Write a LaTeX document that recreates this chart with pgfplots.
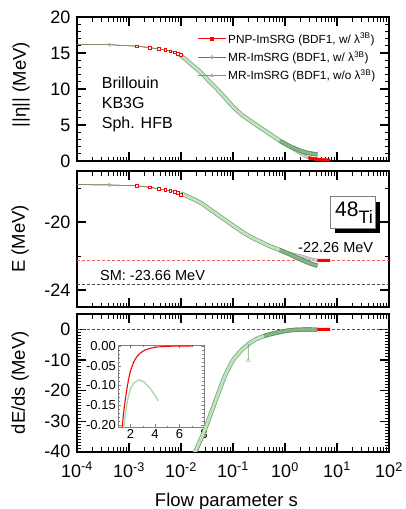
\documentclass[border=0pt]{standalone}
\usepackage{fontspec}
\setmainfont{Liberation Sans}
\usepackage{pgfplots}
\usepackage{pgfplotstable}
\pgfplotsset{compat=1.18}

\definecolor{pnpred}{RGB}{255,0,0}
\definecolor{pnpdash}{RGB}{255,90,90}
\definecolor{mrgrey}{RGB}{110,110,110}
\definecolor{mrgreylt}{RGB}{205,205,205}
\definecolor{nogreen}{RGB}{105,165,105}
\definecolor{nogreenlt}{RGB}{195,225,195}
\definecolor{nogreendk}{RGB}{135,180,135}
\definecolor{smdash}{RGB}{80,80,80}

% flow data: ||eta||, E and dE/ds for the three runs
\pgfplotstableread{
s eta_pnp eta_mr eta_no e_pnp e_mr e_no de_pnp de_mr de_no
0.0001 16.2 16.2 16.2 -17.80 -17.80 -17.80 nan nan nan
0.00042 16.15 16.15 16.15 -17.82 -17.82 -17.82 nan nan nan
0.0014 15.95 15.95 15.95 -17.87 -17.87 -17.87 nan nan nan
0.0025 15.75 15.75 15.75 -17.96 -17.96 -17.96 nan nan nan
0.0038 15.55 15.55 15.55 -18.05 -18.05 -18.05 nan nan nan
0.0050 15.40 15.40 15.40 -18.12 -18.12 -18.12 nan nan nan
0.0062 15.25 15.25 15.25 -18.18 -18.18 -18.18 nan nan nan
0.0075 15.10 15.10 15.10 -18.23 -18.23 -18.23 nan nan nan
0.0088 14.90 14.90 14.90 -18.28 -18.28 -18.28 nan nan nan
0.0100 14.75 14.60 14.60 -18.38 -18.33 -18.33 -53.5 -52.0 -52.0
0.0112 14.50 14.35 14.35 -18.44 -18.39 -18.39 -51.0 -49.5 -49.5
0.0126 14.20 14.05 14.05 -18.51 -18.46 -18.46 -48.7 -47.2 -47.2
0.0141 13.90 13.75 13.75 -18.58 -18.53 -18.53 -46.5 -45.0 -45.0
0.0158 13.55 13.40 13.40 -18.65 -18.60 -18.60 -44.4 -42.9 -42.9
0.0178 13.25 13.10 13.10 -18.72 -18.67 -18.67 -42.3 -40.8 -40.8
0.0200 12.95 12.80 12.80 -18.80 -18.75 -18.75 -40.5 -39.0 -39.0
0.0224 12.65 12.50 12.50 -18.88 -18.83 -18.83 -38.6 -37.1 -37.1
0.0251 12.30 12.15 12.15 -18.96 -18.91 -18.91 -36.7 -35.2 -35.2
0.0282 11.95 11.80 11.80 -19.07 -19.02 -19.02 -34.7 -33.2 -33.2
0.0316 11.55 11.40 11.40 -19.18 -19.13 -19.13 -32.4 -30.9 -30.9
0.0355 11.15 11.00 11.00 -19.29 -19.24 -19.24 -30.1 -28.6 -28.6
0.0398 10.80 10.65 10.65 -19.40 -19.35 -19.35 -27.8 -26.3 -26.3
0.0447 10.45 10.30 10.30 -19.50 -19.45 -19.45 -25.5 -24.0 -24.0
0.0501 10.10 9.95 9.95 -19.61 -19.56 -19.56 -22.7 -21.7 -21.7
0.0562 9.70 9.55 9.55 -19.72 -19.67 -19.67 -20.4 -19.4 -19.4
0.0631 9.30 9.15 9.15 -19.83 -19.78 -19.78 -18.1 -17.1 -17.1
0.0708 8.90 8.75 8.75 -19.93 -19.88 -19.88 -16.1 -15.1 -15.1
0.0794 8.50 8.35 8.35 -20.04 -19.99 -19.99 -14.3 -13.3 -13.3
0.0891 8.10 7.95 7.95 -20.15 -20.10 -20.10 -12.6 -11.6 -11.6
0.1000 7.70 7.55 7.55 -20.25 -20.20 -20.20 -10.5 -10.1 -10.1
0.112 7.35 7.20 7.20 -20.36 -20.31 -20.31 -9.4 -9.0 -9.0
0.126 7.00 6.85 6.85 -20.46 -20.41 -20.41 -8.4 -8.0 -8.0
0.141 6.70 6.55 6.55 -20.57 -20.52 -20.52 -7.5 -7.1 -7.1
0.158 6.40 6.25 6.25 -20.67 -20.62 -20.62 -6.6 -6.2 -6.2
0.178 6.15 6.00 6.00 -20.77 -20.72 -20.72 -5.9 -5.5 -5.5
0.200 5.90 5.75 5.75 -20.86 -20.81 -20.81 -4.95 -4.8 -4.8
0.224 5.65 5.50 5.50 -20.94 -20.89 -20.89 -4.35 -4.2 -4.2
0.251 5.40 5.25 5.25 -21.02 -20.97 -20.97 -3.8 -3.65 -3.65
0.282 5.15 5.00 5.00 -21.10 -21.05 -21.05 -3.35 -3.2 -3.2
0.316 4.90 4.75 4.75 -21.17 -21.12 -21.12 -2.95 -2.8 -2.8
0.355 4.65 4.50 4.50 -21.24 -21.19 -21.19 -2.6 -2.5 -2.5
0.398 4.40 4.30 4.30 -21.32 -21.27 -21.27 -2.3 -2.2 -2.2
0.447 4.15 4.05 4.05 -21.39 -21.34 -21.34 -1.95 -1.9 -1.9
0.501 3.90 3.80 3.80 -21.46 -21.41 -21.41 -1.7 -1.68 -1.68
0.562 3.65 3.55 3.55 -21.52 -21.47 -21.47 -1.48 -1.47 -1.47
0.631 3.40 3.30 3.30 -21.58 -21.53 -21.53 -1.28 -1.27 -1.27
0.708 3.15 3.05 3.05 -21.64 -21.59 -21.59 -1.08 -1.08 -1.08
0.794 2.90 2.80 2.80 -21.70 -21.65 -21.65 -0.88 -0.88 -0.88
0.891 2.65 2.60 2.60 -21.75 -21.71 -21.71 -0.72 -0.72 -0.72
1.00 2.45 2.40 2.40 -21.79 -21.76 -21.78 -0.56 -0.56 -0.57
1.12 2.20 2.20 2.20 -21.83 -21.80 -21.84 -0.42 -0.42 -0.45
1.26 1.95 1.95 2.00 -21.87 -21.85 -21.91 -0.26 -0.26 -0.32
1.41 1.70 1.70 1.85 -21.91 -21.89 -21.98 -0.175 -0.175 -0.23
1.58 1.45 1.45 1.70 -21.95 -21.93 -22.06 -0.125 -0.125 -0.175
1.78 1.22 1.22 1.55 -21.98 -21.96 -22.13 -0.09 -0.09 -0.13
2.00 1.00 1.00 1.40 -22.01 -21.99 -22.20 -0.063 -0.063 -0.107
2.24 0.82 0.82 1.28 -22.05 -22.03 -22.27 -0.045 -0.045 -0.095
2.51 0.62 0.62 1.18 -22.09 -22.08 -22.33 -0.03 -0.03 -0.088
2.82 0.45 0.45 1.10 -22.13 -22.13 -22.39 -0.018 -0.018 -0.087
3.16 0.38 0.38 1.03 -22.17 -22.17 -22.45 -0.011 -0.011 -0.093
3.55 0.32 0.32 0.98 -22.21 -22.21 -22.50 -0.006 -0.006 -0.106
3.98 0.27 0.27 0.94 -22.24 -22.24 -22.55 -0.0035 -0.0035 -0.125
4.20 0.25 0.25 0.93 -22.25 -22.25 -22.57 -0.0025 -0.0025 -0.137
4.47 0.23 nan nan -22.26 nan nan 0 nan nan
5.01 0.20 nan nan -22.26 nan nan 0 nan nan
5.62 0.17 nan nan -22.26 nan nan 0 nan nan
6.31 0.15 nan nan -22.26 nan nan 0 nan nan
7.08 0.13 nan nan -22.26 nan nan 0 nan nan
7.40 0.12 nan nan -22.26 nan nan 0 nan nan
}\flowdata

\pgfplotsset{
  flowpanel/.style={
    scale only axis, width=312pt,
    xmin=1e-4, xmax=1e2,
    xtick={1e-4,1e-3,1e-2,1e-1,1e0,1e1,1e2},
    minor xtick={2e-4,3e-4,4e-4,5e-4,6e-4,7e-4,8e-4,9e-4,
                 2e-3,3e-3,4e-3,5e-3,6e-3,7e-3,8e-3,9e-3,
                 2e-2,3e-2,4e-2,5e-2,6e-2,7e-2,8e-2,9e-2,
                 0.2,0.3,0.4,0.5,0.6,0.7,0.8,0.9,
                 2,3,4,5,6,7,8,9,
                 20,30,40,50,60,70,80,90},
    xticklabels={},
    tick align=inside,
    major tick length=9pt, minor tick length=4.5pt,
    major tick style={line width=1.2pt, black},
    minor tick style={line width=1pt, black},
    axis line style={line width=1.6pt},
    tick label style={font=\fontsize{18}{19}\selectfont},
    ylabel style={font=\fontsize{18.5}{20}\selectfont, anchor=base},
    yticklabel style={xshift=-3pt},
  },
  bandno/.style={draw=nogreen, line width=0.7pt, double=nogreenlt, double distance=2.8pt},
  bandnodk/.style={draw=nogreen!85!black, line width=0.7pt, double=nogreendk, double distance=2.8pt},
  bandmr/.style={draw=mrgrey!70, line width=0.5pt, double=mrgreylt, double distance=1.8pt},
  thinred/.style={pnpred, line width=0.5pt},
  thingrey/.style={mrgrey, line width=0.5pt},
  thingreen/.style={nogreen, line width=0.5pt},
  greymark/.style={only marks, mark=o, mark size=1.8pt, mark options={draw=mrgrey!60, fill=white, line width=0.5pt}},
  redmark/.style={only marks, mark=square*, mark size=1.4pt, mark options={draw=pnpred, fill=white, line width=0.5pt}},
  legend image code/.code={\draw[mark repeat=2,mark phase=2,#1] plot coordinates {(0pt,0pt) (14pt,0pt) (28pt,0pt)};},
}

\begin{document}
\begin{tikzpicture}
\path[use as bounding box] (0pt,0pt) rectangle (405pt,-509pt);

% ---------------- top: generator norm ----------------
\begin{axis}[xmode=log, flowpanel, at={(77pt,-17pt)}, anchor=north west, height=144pt,
  ymin=0, ymax=20, ytick={0,5,10,15,20}, yticklabels={0,5,10,15,20},
  minor y tick num=4,
  ylabel={||η|| (MeV)},
  ylabel style={at={(axis description cs:-0.164,0.53)}},
  legend style={draw=none, fill=none, font=\fontsize{11.8}{13}\selectfont,
    at={(axis description cs:0.386,0.905)}, anchor=north west,
    inner sep=0pt, row sep=2.8pt},
  legend cell align=left]
\addlegendimage{pnpred, line width=0.6pt, mark=square*, mark size=1.6pt, mark options={solid, fill=pnpred}}
\addlegendentry{PNP-ImSRG (BDF1, w/ λ\textsuperscript{3B})}
\addlegendimage{mrgrey, line width=0.6pt, mark=o, mark size=1.8pt, mark options={draw=mrgrey!50}}
\addlegendentry{MR-ImSRG (BDF1, w/ λ\textsuperscript{3B})}
\addlegendimage{nogreen, line width=0.6pt, mark=triangle, mark size=2pt, mark options={draw=nogreen!60}}
\addlegendentry{MR-ImSRG (BDF1, w/o λ\textsuperscript{3B})}

\addplot[thinred, forget plot] table[x=s, y=eta_pnp] {\flowdata};
\addplot[thingrey, forget plot] table[x=s, y=eta_mr] {\flowdata};
\addplot[bandmr, forget plot, skip coords between index={0}{9}] table[x=s, y=eta_mr] {\flowdata};
\addplot[thingreen, forget plot] table[x=s, y=eta_no] {\flowdata};
\addplot[bandno, forget plot, skip coords between index={0}{9}] table[x=s, y=eta_no] {\flowdata};
\addplot[bandnodk, forget plot, skip coords between index={0}{47}] table[x=s, y=eta_no] {\flowdata};
\addplot[greymark, forget plot, skip coords between index={0}{1}, skip coords between index={2}{69}] table[x=s, y=eta_mr] {\flowdata};
\addplot[redmark, forget plot, skip coords between index={0}{2}, skip coords between index={10}{69}] table[x=s, y=eta_pnp] {\flowdata};
\addplot[pnpred, line width=3pt, forget plot, skip coords between index={0}{58}] table[x=s, y=eta_pnp] {\flowdata};
\end{axis}

% ---------------- middle: energy ----------------
\begin{axis}[xmode=log, flowpanel, at={(77pt,-171pt)}, anchor=north west, height=136pt,
  ymin=-25, ymax=-17, ytick={-24,-20}, yticklabels={-24,-20},
  minor ytick={-22,-18},
  ylabel={E (MeV)},
  ylabel style={at={(axis description cs:-0.167,0.5)}}]
\addplot[pnpdash, line width=0.5pt, dash pattern=on 3pt off 2pt] coordinates {(1e-4,-22.26) (1e2,-22.26)};
\addplot[smdash, line width=0.5pt, dash pattern=on 3pt off 2pt] coordinates {(1e-4,-23.66) (1e2,-23.66)};
\addplot[thinred] table[x=s, y=e_pnp] {\flowdata};
\addplot[thingrey] table[x=s, y=e_mr] {\flowdata};
\addplot[bandmr, skip coords between index={0}{9}] table[x=s, y=e_mr] {\flowdata};
\addplot[thingreen] table[x=s, y=e_no] {\flowdata};
\addplot[bandno, skip coords between index={0}{9}] table[x=s, y=e_no] {\flowdata};
\addplot[bandnodk, skip coords between index={0}{47}] table[x=s, y=e_no] {\flowdata};
\addplot[greymark, skip coords between index={0}{1}, skip coords between index={2}{69}] table[x=s, y=e_mr] {\flowdata};
\addplot[redmark, skip coords between index={0}{2}, skip coords between index={10}{69}] table[x=s, y=e_pnp] {\flowdata};
\addplot[pnpred, line width=3pt, skip coords between index={0}{62}] table[x=s, y=e_pnp] {\flowdata};
\end{axis}

% ---------------- inset: late-flow dE/ds ----------------
\begin{axis}[scale only axis, at={(118.3pt,-345pt)}, anchor=north west,
  width=85.7pt, height=82pt,
  xmin=1, xmax=8, ymin=-0.205, ymax=0.0025,
  xtick={2,4,6,8}, xticklabels={2,4,6,8}, minor x tick num=1,
  ytick={-0.2,-0.15,-0.1,-0.05,0}, yticklabels={-0.20,-0.15,-0.10,-0.05,0.00},
  minor y tick num=4,
  tick align=inside, major tick length=3pt, minor tick length=1.5pt,
  tick style={gray, line width=0.4pt},
  axis line style={gray, line width=0.6pt},
  tick label style={font=\fontsize{13}{14}\selectfont},
  xticklabel style={yshift=1pt}, yticklabel style={xshift=1pt},
  axis background/.style={fill=white}]
\addplot[mrgrey!80, line width=0.6pt, densely dotted] coordinates {
  (1.27,-0.21) (1.30,-0.2) (1.41,-0.165) (1.55,-0.13) (1.70,-0.1) (1.82,-0.08)
  (1.95,-0.063) (2.2,-0.04) (2.43,-0.028) (2.72,-0.018) (3.1,-0.01) (3.5,-0.006)
  (3.9,-0.0035) (4.2,-0.0025)};
\addplot[pnpred, line width=1pt] coordinates {
  (1.30,-0.21) (1.33,-0.2) (1.45,-0.165) (1.6,-0.13) (1.75,-0.1) (1.87,-0.08)
  (2.0,-0.063) (2.27,-0.04) (2.5,-0.028) (2.8,-0.018) (3.2,-0.01) (3.6,-0.006)
  (4.0,-0.0035) (4.4,-0.002) (5.0,-0.001) (5.5,-0.0004) (6.0,-0.0001) (7.1,0)};
\addplot[nogreenlt!80!nogreen, line width=1.4pt] coordinates {
  (1.45,-0.21) (1.47,-0.2) (1.6,-0.168) (1.73,-0.141) (1.87,-0.122) (2.0,-0.107)
  (2.27,-0.094) (2.67,-0.086) (3.07,-0.090) (3.6,-0.107) (4.0,-0.125) (4.27,-0.139)};
\end{axis}

% ---------------- bottom: energy derivative ----------------
\begin{axis}[xmode=log, flowpanel, at={(77pt,-314pt)}, anchor=north west, height=137.7pt,
  ymin=-40, ymax=5, ytick={-40,-30,-20,-10,0}, yticklabels={-40,-30,-20,-10,0},
  minor y tick num=9,
  xticklabels={10\textsuperscript{-4},10\textsuperscript{-3},10\textsuperscript{-2},10\textsuperscript{-1},10\textsuperscript{0},10\textsuperscript{1},10\textsuperscript{2}},
  xticklabel style={yshift=-7pt},
  ylabel={dE/ds (MeV)},
  ylabel style={at={(axis description cs:-0.167,0.5)}},
  xlabel={Flow parameter s},
  xlabel style={font=\fontsize{18.5}{20}\selectfont, at={(axis description cs:0.479,0)}, anchor=base, yshift=-54.5pt}]
\addplot[smdash, line width=0.5pt, dash pattern=on 3pt off 2pt] coordinates {(1e-4,0) (1e2,0)};
\addplot[thinred] table[x=s, y=de_pnp] {\flowdata};
\addplot[bandmr] table[x=s, y=de_mr] {\flowdata};
\addplot[bandno] table[x=s, y=de_no] {\flowdata};
\addplot[bandnodk, skip coords between index={0}{41}] table[x=s, y=de_no] {\flowdata};
\addplot[thingreen, mark=triangle, mark size=2.2pt, mark indices={2}, mark options={draw=nogreen!70, fill=white}] coordinates {(0.1955,-4.9) (0.1970,-10.1) (0.1985,-4.85)};
\addplot[pnpred, line width=3pt, skip coords between index={0}{62}] table[x=s, y=de_pnp] {\flowdata};
\end{axis}

% annotations
\node[anchor=base west, inner sep=0pt, font=\fontsize{16}{18}\selectfont] at (101.7pt,-88.3pt) {Brillouin};
\node[anchor=base west, inner sep=0pt, font=\fontsize{16}{18}\selectfont] at (101.7pt,-108.3pt) {KB3G};
\node[anchor=base west, inner sep=0pt, font=\fontsize{16}{18}\selectfont] at (101.7pt,-128.3pt) {Sph. HFB};
\node[anchor=base west, inner sep=0pt, font=\fontsize{14.5}{16}\selectfont] at (298pt,-252.7pt) {-22.26 MeV};
\node[anchor=base west, inner sep=0pt, font=\fontsize{14.5}{16}\selectfont] at (100pt,-280pt) {SM: -23.66 MeV};
\fill[black] (335pt,-201.7pt) rectangle (380pt,-233.3pt);
\filldraw[fill=white, draw=gray, line width=0.5pt] (330pt,-196.7pt) rectangle (375pt,-228.3pt);
\node[anchor=base west, inner sep=0pt] at (335pt,-216.7pt) {\fontsize{21}{22}\selectfont 48\raisebox{-6.6pt}{\fontsize{18}{19}\selectfont Ti}};
\end{tikzpicture}
\end{document}
